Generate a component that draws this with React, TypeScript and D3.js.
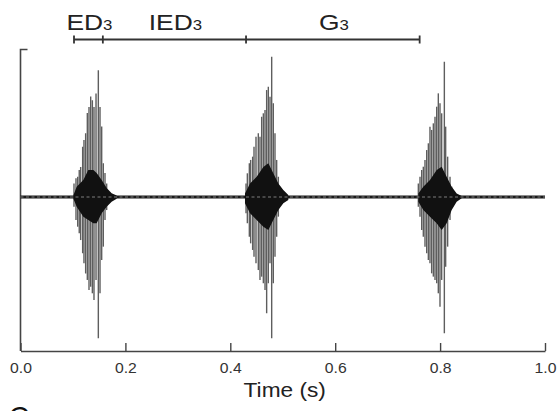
import { useEffect, useRef } from 'react';
import * as d3 from 'd3';

// ticks on the time axis
const TIME_TICKS = [0, 0.2, 0.4, 0.6, 0.8, 1.0];

// top brackets: boundaries (s) and labels
const BRACKET_EDGES = [0.102, 0.157, 0.43, 0.761];
const BRACKET_LABELS = ['ED', 'IED', 'G'];

// burst 1 - spike times (s), positive and negative peaks (rel. amplitude)
const B1_T = [0.102, 0.1058, 0.109, 0.112, 0.1147, 0.1185, 0.121, 0.1242, 0.1274, 0.1306, 0.1338, 0.137, 0.1401, 0.144, 0.1484, 0.1516, 0.1548, 0.1579, 0.1611, 0.1643];
const B1_UP = [0.09, 0.125, 0.135, 0.18, 0.2, 0.335, 0.38, 0.425, 0.56, 0.6, 0.67, 0.645, 0.6, 0.69, 0.845, 0.6, 0.47, 0.225, 0.16, 0.09];
const B1_DN = [-0.065, -0.153, -0.198, -0.242, -0.287, -0.375, -0.442, -0.51, -0.553, -0.62, -0.598, -0.642, -0.687, -0.553, -0.942, -0.642, -0.42, -0.331, -0.153, -0.087];

// burst 2
const B2_T = [0.43, 0.4325, 0.4363, 0.4388, 0.4426, 0.4452, 0.449, 0.4534, 0.4566, 0.4598, 0.463, 0.4662, 0.4693, 0.4725, 0.4757, 0.4789, 0.482, 0.4852, 0.4884, 0.4916, 0.4948];
const B2_UP = [0.09, 0.158, 0.225, 0.247, 0.269, 0.335, 0.402, 0.425, 0.402, 0.535, 0.558, 0.58, 0.713, 0.735, 0.669, 0.935, 0.625, 0.425, 0.247, 0.135, 0.047];
const B2_DN = [-0.109, -0.175, -0.265, -0.309, -0.353, -0.398, -0.442, -0.487, -0.553, -0.531, -0.575, -0.62, -0.775, -0.575, -0.442, -0.942, -0.575, -0.398, -0.265, -0.131, -0.042];

// burst 3
const B3_T = [0.7585, 0.7617, 0.7649, 0.768, 0.7712, 0.7744, 0.7776, 0.7807, 0.7839, 0.7871, 0.7903, 0.7935, 0.7966, 0.7998, 0.803, 0.8081, 0.8106, 0.8144, 0.8189, 0.8221];
const B3_UP = [0.09, 0.135, 0.18, 0.202, 0.247, 0.313, 0.358, 0.469, 0.447, 0.491, 0.535, 0.602, 0.691, 0.625, 0.558, 0.902, 0.469, 0.269, 0.135, 0.069];
const B3_DN = [-0.065, -0.131, -0.22, -0.265, -0.331, -0.375, -0.42, -0.442, -0.509, -0.531, -0.553, -0.575, -0.642, -0.731, -0.553, -0.909, -0.465, -0.331, -0.153, -0.065];

// dense dark core of each burst (envelope)
const C1_T = [0.1007, 0.1071, 0.1198, 0.1293, 0.1389, 0.1452, 0.1548, 0.1643, 0.1738, 0.1834];
const C1_UP = [0.01, 0.069, 0.113, 0.18, 0.18, 0.16, 0.113, 0.06, 0.025, 0.01];
const C1_DN = [-0.01, -0.065, -0.131, -0.153, -0.175, -0.175, -0.109, -0.065, -0.031, -0.011];

const C2_T = [0.428, 0.4376, 0.4503, 0.463, 0.4725, 0.482, 0.4916, 0.5011, 0.5106];
const C2_UP = [0.024, 0.09, 0.135, 0.2, 0.225, 0.158, 0.09, 0.047, 0.013];
const C2_DN = [-0.042, -0.109, -0.153, -0.198, -0.22, -0.153, -0.087, -0.042, -0.02];

const C3_T = [0.7585, 0.768, 0.7807, 0.7935, 0.803, 0.8125, 0.8221, 0.8316, 0.8411];
const C3_UP = [0.024, 0.069, 0.113, 0.18, 0.202, 0.135, 0.069, 0.024, 0.007];
const C3_DN = [-0.031, -0.087, -0.131, -0.175, -0.22, -0.175, -0.087, -0.031, -0.009];

const W = 559;
const H = 411;
const FONT = '"Liberation Sans", Arial, sans-serif';

const x = d3.scaleLinear().domain([0, 1]).range([20.5, 545]);
const y = d3.scaleLinear().domain([-1, 1]).range([347, 47]);

const bursts = [
  { t: B1_T, up: B1_UP, dn: B1_DN },
  { t: B2_T, up: B2_UP, dn: B2_DN },
  { t: B3_T, up: B3_UP, dn: B3_DN },
];
const cores = [
  { t: C1_T, up: C1_UP, dn: C1_DN },
  { t: C2_T, up: C2_UP, dn: C2_DN },
  { t: C3_T, up: C3_UP, dn: C3_DN },
];

export default function App() {
  const axisRef = useRef<SVGGElement>(null);

  useEffect(() => {
    if (!axisRef.current) return;
    const g = d3.select(axisRef.current);
    g.selectAll('*').remove();
    g.call(
      d3.axisBottom(x)
        .tickValues(TIME_TICKS)
        .tickFormat(d3.format('.1f'))
        .tickSizeInner(-8)
        .tickSizeOuter(0)
        .tickPadding(11)
    );
    g.attr('font-size', 15).attr('font-family', FONT);
    g.select('.domain').attr('stroke', '#444').attr('stroke-width', 1.6);
    g.selectAll('.tick line').attr('stroke', '#444').attr('stroke-width', 1.4);
    g.selectAll('.tick text')
      .attr('fill', '#333')
      .style('font-size', '15px')
      .attr('transform', 'scale(1.05,1)');
  }, []);

  return (
    <svg width={W} height={H} style={{ position: 'absolute', left: 0, top: 0, background: '#fff' }}>
      {/* brackets */}
      <g stroke="#333" strokeWidth={1.8}>
        <line x1={x(BRACKET_EDGES[0])} x2={x(BRACKET_EDGES[BRACKET_EDGES.length - 1])} y1={39.5} y2={39.5} />
        {BRACKET_EDGES.map(e => (
          <line key={e} x1={x(e)} x2={x(e)} y1={35.5} y2={43.5} />
        ))}
      </g>
      {BRACKET_LABELS.map((lab, i) => {
        const cx = (x(BRACKET_EDGES[i]) + x(BRACKET_EDGES[i + 1])) / 2 + 1;
        return (
          <text key={lab} transform={`translate(${cx},30) scale(1.2,1)`} textAnchor="middle"
            fill="#222" style={{ fontFamily: FONT, fontSize: 22 }}>
            {lab}<tspan style={{ fontSize: 14 }}>3</tspan>
          </text>
        );
      })}

      {/* left spine */}
      <path d={`M27.5,49.5H${x(0)}V351`} fill="none" stroke="#444" strokeWidth={1.6} />

      {/* baseline noise */}
      <line x1={x(0)} x2={x(1)} y1={y(0)} y2={y(0)} stroke="#1a1a1a" strokeWidth={3} />

      {/* spikes */}
      <g stroke="#5e5e5e" strokeWidth={1.4}>
        {bursts.map((b, bi) => b.t.map((t, i) => (
          <line key={`${bi}-${i}`} x1={x(t)} x2={x(t)} y1={y(b.up[i])} y2={y(b.dn[i])} />
        )))}
      </g>

      {/* dark cores */}
      {cores.map((c, ci) => {
        const area = d3.area<number>()
          .x((_, i) => x(c.t[i]))
          .y0((_, i) => y(c.dn[i]))
          .y1((_, i) => y(c.up[i]))
          .curve(d3.curveLinear);
        return <path key={ci} fill="#111" d={area(c.t) || ''} />;
      })}

      {/* light dashed centre line */}
      <line x1={x(0)} x2={x(1)} y1={y(0)} y2={y(0)} stroke="#9a9a9a" strokeWidth={0.8} strokeDasharray="3 2.5" />

      {/* x axis */}
      <g ref={axisRef} transform="translate(0,351)" />
      <text x={(x(0) + x(1)) / 2 + 2} y={397} textAnchor="middle" fill="#222"
        transform={`translate(${-0.08 * ((x(0) + x(1)) / 2 + 2)},0) scale(1.08,1)`}
        style={{ fontFamily: FONT, fontSize: 21 }}>
        Time (s)
      </text>

      {/* panel letter (cut off at the bottom edge, as in the source figure) */}
      <text x={9} y={426} fill="#111" style={{ fontFamily: FONT, fontSize: 28 }}>C</text>
    </svg>
  );
}
